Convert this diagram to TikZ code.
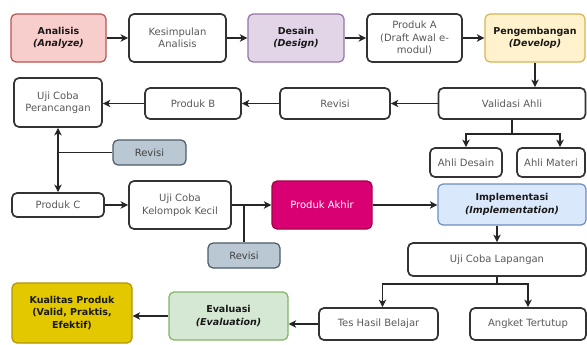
\documentclass[tikz,border=0pt]{standalone}
\usepackage{fontspec}
\setmainfont{DejaVu Sans}
\usetikzlibrary{calc,arrows.meta}
\definecolor{anafill}{HTML}{F8CECC}
\definecolor{analine}{HTML}{B85450}
\definecolor{desfill}{HTML}{E1D5E7}
\definecolor{desline}{HTML}{9673A6}
\definecolor{devfill}{HTML}{FFF2CC}
\definecolor{devline}{HTML}{D6B656}
\definecolor{impfill}{HTML}{DAE8FC}
\definecolor{impline}{HTML}{6C8EBF}
\definecolor{evafill}{HTML}{D5E8D4}
\definecolor{evaline}{HTML}{82B366}
\definecolor{revfill}{HTML}{BAC8D3}
\definecolor{revline}{HTML}{4D5B66}
\definecolor{akhirfill}{HTML}{D80073}
\definecolor{akhirline}{HTML}{A50040}
\definecolor{kualfill}{HTML}{E3C800}
\definecolor{kualline}{HTML}{B09500}

\begin{document}
\begin{tikzpicture}[x=1pt,y=-1pt]
\tikzstyle{plainbox}=[draw=black!80, line width=1.7pt, rounded corners=5pt, fill=white, align=center, inner sep=1pt, text=black!65, font=\fontsize{10}{12.5}\selectfont]
\tikzstyle{phasebox}=[plainbox, line width=1.2pt, text=black!90, font=\fontsize{9.5}{12.5}\selectfont\bfseries]
\tikzstyle{revbox}=[plainbox, line width=1.2pt, fill=revfill, draw=revline, text=black!75]
\tikzstyle{conn}=[line width=1.4pt, draw=black!85]
\tikzstyle{flow}=[conn, -{Stealth[length=7.5pt,width=7.5pt,inset=2pt]}]
\tikzstyle{twoway}=[conn, {Stealth[length=7.5pt,width=7.5pt,inset=2pt]}-{Stealth[length=7.5pt,width=7.5pt,inset=2pt]}]

\useasboundingbox (0,0) rectangle (587,345);

% baris atas: analisis sampai pengembangan
\node[phasebox, fill=anafill, draw=analine, minimum width=95, minimum height=48] (analisis) at (58.5,38) {Analisis\\\textit{(Analyze)}};
\node[plainbox, minimum width=97, minimum height=48] (kesimpulan) at (177.5,38) {Kesimpulan\\Analisis};
\node[phasebox, fill=desfill, draw=desline, minimum width=96, minimum height=48] (desain) at (296,38) {Desain\\\textit{(Design)}};
\node[plainbox, minimum width=95, minimum height=48] (produkA) at (414.5,38) {Produk A\\(Draft Awal e-\\modul)};
\node[phasebox, fill=devfill, draw=devline, minimum width=100, minimum height=48] (pengembangan) at (535,38) {Pengembangan\\\textit{(Develop)}};

% validasi dan revisi
\node[plainbox, minimum width=147, minimum height=31] (validasi) at (512,103.5) {Validasi Ahli};
\node[plainbox, minimum width=110, minimum height=31] (revisiA) at (335,103.5) {Revisi};
\node[plainbox, minimum width=96, minimum height=31] (produkB) at (193,103.5) {Produk B};
\node[plainbox, minimum width=88, minimum height=49] (ujiPerancangan) at (58,102.5) {Uji Coba\\Perancangan};
\node[plainbox, minimum width=72, minimum height=29] (ahliDesain) at (466,162.5) {Ahli Desain};
\node[plainbox, minimum width=68, minimum height=29] (ahliMateri) at (551,162.5) {Ahli Materi};

% uji coba kelompok kecil
\node[revbox, minimum width=73, minimum height=25] (revisiB) at (149.5,152.5) {Revisi};
\node[plainbox, minimum width=92, minimum height=24] (produkC) at (58,205) {Produk C};
\node[plainbox, minimum width=102, minimum height=48] (ujiKecil) at (180,205) {Uji Coba\\Kelompok Kecil};
\node[plainbox, fill=akhirfill, draw=akhirline, line width=1.2pt, text=white, minimum width=100, minimum height=48] (produkAkhir) at (322,205) {Produk Akhir};
\node[revbox, minimum width=72, minimum height=25] (revisiC) at (244,255.5) {Revisi};
\node[phasebox, fill=impfill, draw=impline, minimum width=148, minimum height=41] (implementasi) at (512,204.5) {Implementasi\\\textit{(Implementation)}};

% uji coba lapangan dan evaluasi
\node[plainbox, minimum width=178, minimum height=33] (ujiLapangan) at (497,259.5) {Uji Coba Lapangan};
\node[plainbox, minimum width=119, minimum height=32] (tesHasil) at (378.5,324) {Tes Hasil Belajar};
\node[plainbox, minimum width=116, minimum height=32] (angket) at (528,324) {Angket Tertutup};
\node[phasebox, fill=evafill, draw=evaline, minimum width=119, minimum height=48] (evaluasi) at (228.5,316) {Evaluasi\\\textit{(Evaluation)}};
\node[phasebox, fill=kualfill, draw=kualline, minimum width=120, minimum height=60] (kualitas) at (72,313) {Kualitas Produk\\(Valid, Praktis,\\Efektif)};

\coordinate (vbranch) at ($(validasi.south)+(0,14)$);
\coordinate (kbranch) at ($(revisiB.west -| produkC.north)$);
\coordinate (lbranch) at ($(ujiLapangan.south)+(0,7)$);

\draw[flow] (analisis) -- (kesimpulan);
\draw[flow] (kesimpulan) -- (desain);
\draw[flow] (desain) -- (produkA);
\draw[flow] (produkA) -- (pengembangan);
\draw[flow] (pengembangan.south) -- (pengembangan.south |- validasi.north);
\draw[flow] (validasi) -- (revisiA);
\draw[flow] (revisiA) -- (produkB);
\draw[flow] (produkB.west) -- (produkB.west -| ujiPerancangan.east);
\draw[conn] (validasi.south) -- (vbranch);
\draw[flow] (vbranch) -| (ahliDesain.north);
\draw[flow] (vbranch) -| ([xshift=9pt]ahliMateri.north);
\draw[twoway] (ujiPerancangan) -- (produkC);
\draw[conn] (revisiB.west) -- (kbranch);
\draw[flow] (produkC) -- (ujiKecil);
\draw[flow] (ujiKecil) -- (produkAkhir);
\draw[conn] (revisiC.north) -- (revisiC.north |- ujiKecil.east);
\draw[flow] (produkAkhir.east) -- (produkAkhir.east -| implementasi.west);
\draw[flow] (implementasi.south -| ujiLapangan.north) -- (ujiLapangan.north);
\draw[conn] (ujiLapangan.south) -- (lbranch);
\draw[flow] (lbranch) -| ([xshift=4pt]tesHasil.north);
\draw[flow] (lbranch) -| (angket.north);
\draw[flow] (tesHasil.west) -- (tesHasil.west -| evaluasi.east);
\draw[flow] (evaluasi.west) -- (evaluasi.west -| kualitas.east);
\end{tikzpicture}
\end{document}
